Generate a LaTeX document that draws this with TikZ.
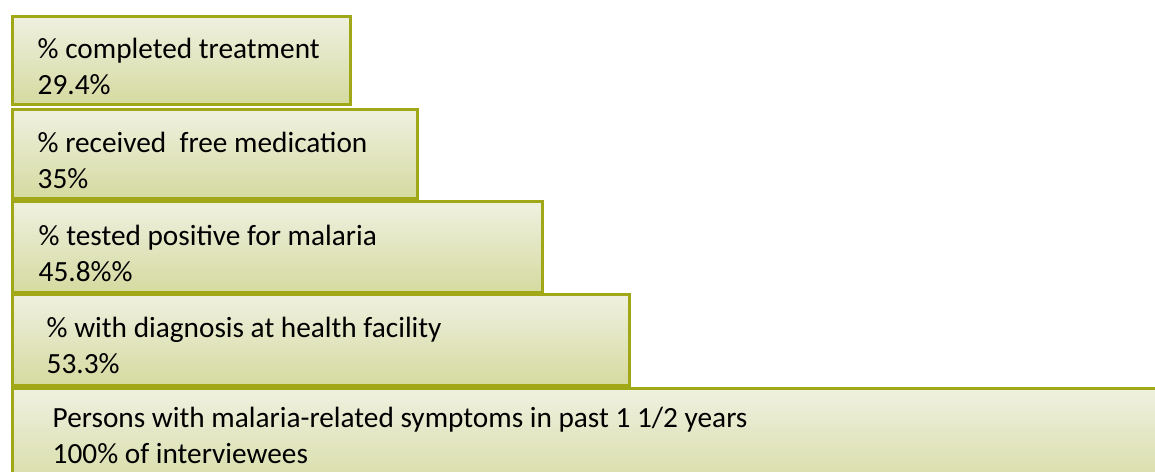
\documentclass[tikz,border=0pt]{standalone}
\usepackage{fontspec}
\setmainfont{Carlito}
\usepackage{xcolor}
\definecolor{barline}{HTML}{A0A818}
\definecolor{bartop}{HTML}{EFF1E0}
\definecolor{barbottom}{HTML}{D5DAA0}
\usepackage{tikz}
\usetikzlibrary{calc}

\begin{document}
\begin{tikzpicture}[x=1pt, y=-1pt]

  \useasboundingbox (0,0) rectangle (1155,471);
  \clip (0,0) rectangle (1155,471);

  \tikzset{
    bar/.style={draw=barline, line width=3.5pt, top color=bartop,
                bottom color=barbottom, anchor=north west, inner sep=0pt},
    lbl/.style={anchor=base west, align=left, inner sep=0pt,
                text=black, font=\fontsize{29.3}{36}\selectfont}
  }

  % steps of the cascade, widest at the bottom
  \node[bar, minimum width=1170, minimum height=110] (symptoms) at (10.5,386.5) {};
  \node[bar, minimum width=617, minimum height=91] (diag) at (10.5,292.5) {};
  \node[bar, minimum width=530, minimum height=91] (positive) at (10.5,199.5) {};
  \node[bar, minimum width=405, minimum height=89] (freemed) at (10.5,107.5) {};
  \node[bar, minimum width=338, minimum height=88] (treat) at (10.5,14.5) {};

  % labels (base = baseline of the second line)
  \node[lbl] (treatlbl) at ($(treat.north west)+(27,80)$)
    {\% completed treatment\\29.4\%};
  \node[lbl] (freemedlbl) at ($(freemed.north west)+(27,81)$)
    {\% received \ free medication\\35\%};
  \node[lbl] (positivelbl) at ($(positive.north west)+(28,81.5)$)
    {\% tested positive for malaria\\45.8\%\%};
  \node[lbl] (diaglbl) at ($(diag.north west)+(36,81)$)
    {\% with diagnosis at health facility\\53.3\%};
  \node[lbl] (symptomslbl) at ($(symptoms.north west)+(42,77)$)
    {Persons with malaria-related symptoms in past 1 1/2 years\\100\% of interviewees};

\end{tikzpicture}
\end{document}
